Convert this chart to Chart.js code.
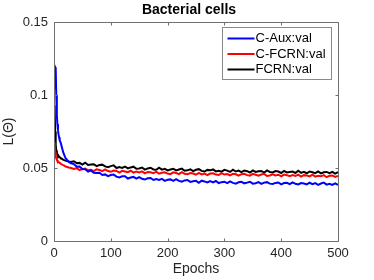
<!DOCTYPE html>
<html>
<head>
<meta charset="utf-8">
<script src="https://cdn.jsdelivr.net/npm/chart.js@4.4.0/dist/chart.umd.min.js"></script>
<style>
html,body{margin:0;padding:0;background:#fff;}
canvas{display:block;}
</style>
</head>
<body>
<canvas id="c" width="374" height="280"></canvas>
<script>
const chartTitle = 'Bacterial cells';
const xLabel = 'Epochs';
const yLabel = 'L(\u0398)';
const seriesNames = ['C-Aux:val', 'C-FCRN:val', 'FCRN:val'];
const seriesColors = ['#0000ff', '#ff0000', '#000000'];
const xTicks = [0, 100, 200, 300, 400, 500];
const yTicks = [0, 0.05, 0.1, 0.15];

const epochs = [1,2,3,4,5,6,7,8,9,10,12,14,16,18,20,23,26,30,
35,40,45,50,55,60,65,70,75,80,85,90,95,100,105,110,115,120,125,130,135,140,145,150,
155,160,165,170,175,180,185,190,195,200,205,210,215,220,225,230,235,240,245,250,
255,260,265,270,275,280,285,290,295,300,305,310,315,320,325,330,335,340,345,350,
355,360,365,370,375,380,385,390,395,400,405,410,415,420,425,430,435,440,445,450,
455,460,465,470,475,480,485,490,495,500];

const cAux = [0.104,0.119,0.118,0.100,0.086,0.080,0.076,0.073,0.071,0.069,0.067,0.064,0.061,0.059,0.057,0.0555,0.0542,0.0532,
0.0527,0.0508,0.0510,0.0493,0.0491,0.0475,0.0483,0.0467,0.0465,0.0467,0.0452,0.0456,0.0444,0.0452,0.0455,0.0441,0.0436,0.0443,0.0443,0.0428,0.0435,0.0439,0.0427,0.0437,
0.0426,0.0421,0.0430,0.0432,0.0418,0.0424,0.0418,0.0426,0.0412,0.0419,0.0422,0.0412,0.0424,0.0412,0.0407,0.0415,0.0418,0.0405,0.0409,0.0412,
0.0399,0.0413,0.0408,0.0401,0.0410,0.0401,0.0411,0.0397,0.0403,0.0406,0.0396,0.0408,0.0398,0.0393,0.0402,0.0405,0.0395,0.0400,0.0406,0.0393,
0.0396,0.0403,0.0391,0.0400,0.0403,0.0393,0.0391,0.0398,0.0401,0.0388,0.0397,0.0399,0.0390,0.0402,0.0392,0.0387,0.0397,0.0394,0.0388,0.0399,
0.0389,0.0397,0.0385,0.0394,0.0400,0.0386,0.0392,0.0384,0.0395,0.0385];

const cFcrn = [0.068,0.061,0.058,0.0565,0.0556,0.0550,0.0546,0.0541,0.0538,0.0535,0.0529,0.0524,0.0519,0.0516,0.0511,0.0507,0.0503,0.0500,
0.0494,0.0499,0.0486,0.0492,0.0496,0.0484,0.0488,0.0479,0.0491,0.0487,0.0478,0.0490,0.0479,0.0474,0.0483,0.0480,0.0469,0.0481,0.0476,0.0471,0.0481,0.0468,0.0475,0.0470,
0.0477,0.0463,0.0473,0.0471,0.0464,0.0475,0.0461,0.0467,0.0471,0.0462,0.0458,0.0470,0.0466,0.0458,0.0472,0.0460,0.0458,0.0466,0.0462,0.0454,
0.0467,0.0456,0.0462,0.0451,0.0462,0.0464,0.0455,0.0452,0.0465,0.0455,0.0459,0.0450,0.0460,0.0457,0.0448,0.0458,0.0460,0.0451,0.0448,0.0460,
0.0454,0.0448,0.0455,0.0460,0.0445,0.0449,0.0456,0.0449,0.0454,0.0443,0.0455,0.0451,0.0444,0.0451,0.0445,0.0455,0.0441,0.0451,0.0448,0.0442,
0.0454,0.0441,0.0447,0.0443,0.0451,0.0437,0.0447,0.0449,0.0439,0.0445];

const fcrn = [0.093,0.075,0.066,0.062,0.0605,0.0595,0.0588,0.0582,0.0578,0.0574,0.0568,0.0563,0.0558,0.0554,0.0551,0.0547,0.0544,0.0541,
0.0546,0.0533,0.0535,0.0523,0.0536,0.0521,0.0524,0.0526,0.0513,0.0520,0.0523,0.0511,0.0506,0.0513,0.0518,0.0500,0.0507,0.0501,0.0510,0.0497,0.0504,0.0509,0.0495,0.0497,
0.0503,0.0489,0.0497,0.0502,0.0490,0.0488,0.0502,0.0489,0.0494,0.0484,0.0490,0.0495,0.0484,0.0490,0.0496,0.0481,0.0484,0.0491,0.0479,0.0488,
0.0492,0.0480,0.0476,0.0487,0.0484,0.0490,0.0477,0.0481,0.0475,0.0487,0.0482,0.0473,0.0488,0.0476,0.0482,0.0472,0.0483,0.0478,0.0469,0.0484,
0.0473,0.0477,0.0480,0.0469,0.0483,0.0473,0.0470,0.0479,0.0476,0.0466,0.0480,0.0470,0.0473,0.0476,0.0466,0.0481,0.0467,0.0474,0.0464,0.0476,
0.0471,0.0465,0.0476,0.0463,0.0471,0.0473,0.0465,0.0474,0.0462,0.0471];

const seriesValues = [cAux, cFcrn, fcrn];

Chart.defaults.font.family = "'Liberation Sans', Arial, Helvetica, sans-serif";
Chart.defaults.color = '#262626';

const axisColor = '#707070';

const boxPlugin = {
  id: 'boxPlugin',
  afterDatasetsDraw(chart) {
    const {ctx, chartArea: a, scales} = chart;
    const L = Math.round(a.left) + 0.5, R = Math.round(a.right) + 0.5;
    const T = Math.round(a.top) + 0.5, B = Math.round(a.bottom) + 0.5;
    ctx.save();
    ctx.strokeStyle = axisColor;
    ctx.lineWidth = 1;
    ctx.beginPath();
    ctx.rect(L, T, R - L, B - T);
    const tl = 3;
    xTicks.forEach(v => {
      const px = Math.round(scales.x.getPixelForValue(v)) + 0.5;
      ctx.moveTo(px, B); ctx.lineTo(px, B - tl);
      ctx.moveTo(px, T); ctx.lineTo(px, T + tl);
    });
    yTicks.forEach(v => {
      const py = Math.round(scales.y.getPixelForValue(v)) + 0.5;
      ctx.moveTo(L, py); ctx.lineTo(L + tl, py);
      ctx.moveTo(R, py); ctx.lineTo(R - tl, py);
    });
    ctx.stroke();

    // title
    ctx.fillStyle = '#000';
    ctx.font = "bold 14px 'Liberation Sans', Arial, sans-serif";
    ctx.textAlign = 'center';
    ctx.textBaseline = 'middle';
    ctx.fillText(chartTitle, (a.left + a.right) / 2 - 7, 10.5);

    // legend
    const lx = Math.round(a.right) - 116 + 0.5, ly = Math.round(a.top) + 5 + 0.5;
    const lw = 109, lh = 52;
    ctx.fillStyle = '#fff';
    ctx.fillRect(lx, ly, lw, lh);
    ctx.strokeStyle = '#8a8a8a';
    ctx.lineWidth = 1;
    ctx.strokeRect(lx, ly, lw, lh);
    ctx.font = "13px 'Liberation Sans', Arial, sans-serif";
    ctx.textBaseline = 'middle';
    ctx.textAlign = 'left';
    seriesNames.forEach((name, i) => {
      const yy = ly + 11 + i * 15.5;
      ctx.strokeStyle = seriesColors[i];
      ctx.lineWidth = 2;
      ctx.beginPath();
      ctx.moveTo(lx + 5, yy); ctx.lineTo(lx + 32, yy);
      ctx.stroke();
      ctx.fillStyle = '#000';
      ctx.fillText(name, lx + 33, yy);
    });
    ctx.restore();
  }
};

new Chart(document.getElementById('c'), {
  type: 'line',
  data: {
    datasets: seriesNames.map((name, i) => ({
      label: name,
      data: epochs.map((e, j) => ({x: e, y: seriesValues[i][j]})),
      borderColor: seriesColors[i],
      backgroundColor: seriesColors[i],
      borderWidth: 2,
      pointRadius: 0,
      tension: 0,
      fill: false
    }))
  },
  options: {
    responsive: false,
    animation: false,
    devicePixelRatio: 1,
    layout: {padding: {left: 0, right: 36, top: 22, bottom: 0}},
    plugins: {
      legend: {display: false},
      tooltip: {enabled: false},
      title: {display: false}
    },
    scales: {
      x: {
        type: 'linear',
        min: 0, max: 500,
        afterFit(s) { s.height = 39; },
        afterBuildTicks(s) { s.ticks = xTicks.map(v => ({value: v})); },
        ticks: {font: {size: 13}, padding: 5, maxRotation: 0, color: '#262626'},
        grid: {display: false, drawTicks: false},
        border: {display: false},
        title: {display: true, text: xLabel, font: {size: 14}, color: '#262626', padding: {top: 0, bottom: 2}}
      },
      y: {
        type: 'linear',
        min: 0, max: 0.15,
        afterFit(s) { s.width = 54; },
        afterBuildTicks(s) { s.ticks = yTicks.map(v => ({value: v})); },
        ticks: {font: {size: 13}, padding: 6, color: '#262626', callback: v => String(v)},
        grid: {display: false, drawTicks: false},
        border: {display: false},
        title: {display: true, text: yLabel, font: {size: 14}, color: '#262626', padding: {top: 1, bottom: 0}}
      }
    }
  },
  plugins: [boxPlugin]
});
</script>
</body>
</html>
